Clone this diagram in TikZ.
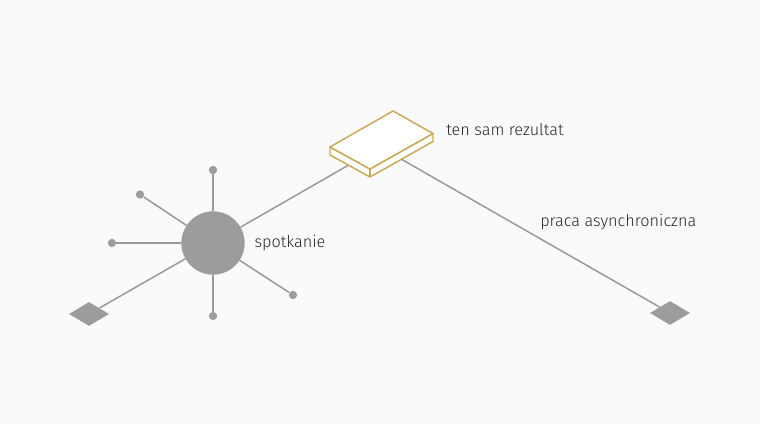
\documentclass[tikz,border=0pt]{standalone}
\usepackage{fontspec}
\setmainfont{Fira Sans Light}
\usetikzlibrary{positioning,shapes.geometric}

\definecolor{linegray}{RGB}{152,152,152}
\definecolor{hubgray}{RGB}{156,156,156}
\definecolor{slabgold}{RGB}{200,170,86}
\definecolor{bggray}{RGB}{250,250,250}
\definecolor{textdark}{RGB}{40,40,40}

\begin{document}
\begin{tikzpicture}[x=0.75pt, y=-0.75pt, node distance=7pt,
    hub/.style={circle, fill=hubgray, minimum size=47.5pt, inner sep=0pt},
    dot/.style={circle, fill=hubgray, minimum size=6.2pt, inner sep=0pt},
    endpoint/.style={diamond, fill=hubgray, minimum width=30pt, minimum height=18pt, inner sep=0pt},
    link/.style={draw=linegray, line width=1.1pt},
    slab/.style={draw=slabgold, fill=white, line width=1.1pt, line join=round},
    caption/.style={text=textdark, font=\fontsize{12.2}{14}\selectfont, inner sep=0pt}]

\useasboundingbox[fill=bggray] (0,0) rectangle (760,424);

\node [endpoint] (leftend) at (89,314) {};
\node [endpoint] (rightend) at (670,313) {};
\node [hub] (meet) at (213,243) {};
\coordinate (result) at (380,147);

\node [dot] (dotn) at (213,170) {};
\node [dot] (dotnw) at (140,194.5) {};
\node [dot] (dotw) at (112,243) {};
\node [dot] (dotse) at (293,295) {};
\node [dot] (dots) at (213,316) {};

\draw [link] (leftend) -- (meet);
\draw [link] (meet) -- (result);
\draw [link] (result) -- (rightend);
\draw [link] (meet) -- (dotn);
\draw [link] (meet) -- (dotnw);
\draw [link] (meet) -- (dotw);
\draw [link] (meet) -- (dotse);
\draw [link] (meet) -- (dots);

% the result slab
\draw [slab] (330,147) -- (370,169) -- (433,133.5) -- (433,141.5) -- (370,177) -- (330,155) -- cycle;
\draw [slab] (330,147) -- (393,111) -- (433,133.5) -- (370,169) -- cycle;
\draw [slabgold, line width=1.1pt] (370,169) -- (370,177);

\node [caption, anchor=west] (resulttext) at (446,130) {ten sam rezultat};
\node [caption, right=of meet] (meettext) {spotkanie};
\node [caption, anchor=west] (asynctext) at (540,222) {praca asynchroniczna};

\end{tikzpicture}
\end{document}
